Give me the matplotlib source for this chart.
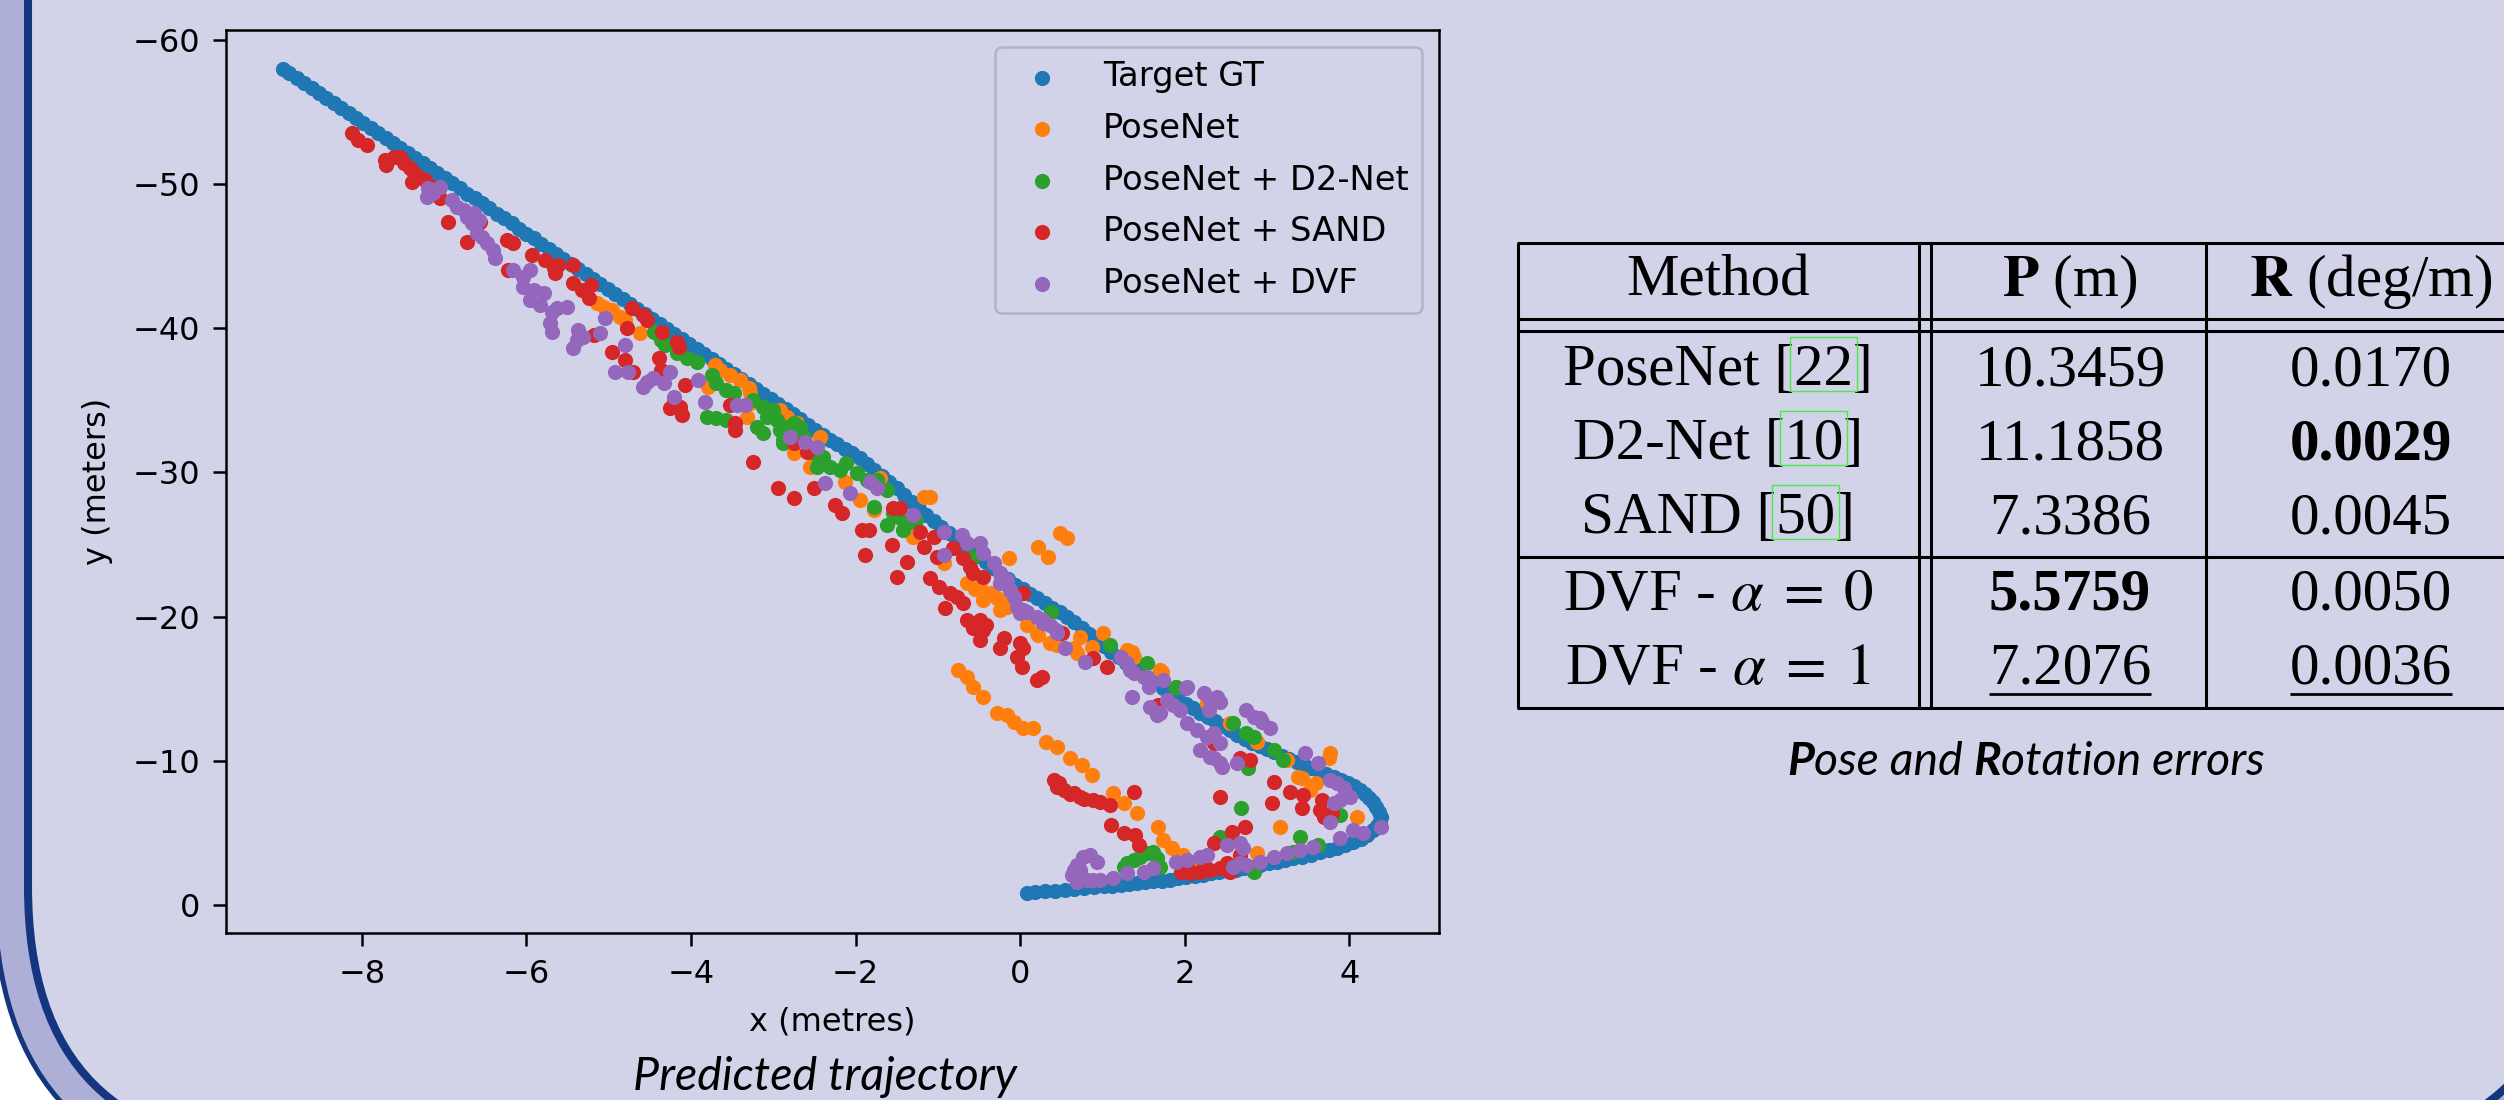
import matplotlib
matplotlib.use('Agg')
import matplotlib.pyplot as plt
from matplotlib.patches import FancyBboxPatch, Rectangle

plt.rcParams['mathtext.fontset'] = 'stix'

# ---------------- data ----------------
GT = [(-8.96,-58.00),(-8.88,-57.69),(-8.79,-57.34),(-8.70,-57.00),(-8.61,-56.65),(-8.52,-56.30),(-8.43,-55.95),
 (-8.34,-55.61),(-8.25,-55.26),(-8.16,-54.91),(-8.07,-54.56),(-7.98,-54.22),(-7.89,-53.87),(-7.80,-53.52),
 (-7.71,-53.17),(-7.62,-52.83),(-7.53,-52.48),(-7.44,-52.13),(-7.35,-51.79),(-7.26,-51.44),(-7.17,-51.09),
 (-7.08,-50.74),(-6.99,-50.40),(-6.90,-50.05),(-6.81,-49.70),(-6.72,-49.35),(-6.63,-49.01),(-6.54,-48.66),
 (-6.45,-48.31),(-6.36,-47.96),(-6.27,-47.62),(-6.18,-47.27),(-6.09,-46.92),(-6.00,-46.57),(-5.91,-46.23),
 (-5.82,-45.88),(-5.73,-45.53),(-5.64,-45.18),(-5.55,-44.84),(-5.46,-44.49),(-5.37,-44.14),(-5.28,-43.80),
 (-5.19,-43.45),(-5.10,-43.10),(-5.01,-42.75),(-4.92,-42.41),(-4.83,-42.06),(-4.74,-41.71),(-4.65,-41.36),
 (-4.56,-41.02),(-4.47,-40.67),(-4.38,-40.32),(-4.29,-39.97),(-4.20,-39.63),(-4.11,-39.28),(-4.02,-38.93),
 (-3.93,-38.58),(-3.84,-38.24),(-3.75,-37.89),(-3.66,-37.54),(-3.57,-37.19),(-3.48,-36.85),(-3.39,-36.50),
 (-3.30,-36.15),(-3.21,-35.80),(-3.12,-35.46),(-3.03,-35.11),(-2.94,-34.76),(-2.85,-34.42),
 (-2.76,-34.05),(-2.67,-33.68),(-2.58,-33.32),(-2.49,-32.96),(-2.40,-32.60),(-2.31,-32.27),(-2.22,-31.95),
 (-2.13,-31.63),(-2.04,-31.32),(-1.95,-30.98),(-1.86,-30.58),(-1.77,-30.18),(-1.68,-29.79),(-1.59,-29.37),
 (-1.50,-28.93),(-1.41,-28.45),(-1.32,-27.95),(-1.23,-27.48),(-1.14,-27.05),(-1.05,-26.63),(-0.96,-26.20),
 (-0.87,-25.78),(-0.78,-25.37),(-0.69,-24.97),(-0.60,-24.58),(-0.51,-24.18),(-0.42,-23.79),(-0.33,-23.39),
 (-0.24,-23.00),(-0.15,-22.61),(-0.06,-22.22),
 (0.03,-21.90),(0.12,-21.58),(0.21,-21.27),(0.30,-20.95),(0.39,-20.63),(0.48,-20.31),(0.57,-20.00),
 (0.66,-19.62),(0.75,-19.22),(0.84,-18.80),(0.93,-18.37),(1.02,-17.95),(1.11,-17.55),(1.20,-17.18),
 (1.29,-16.82),(1.38,-16.46),(1.47,-16.10),(1.56,-15.74),(1.65,-15.38),(1.74,-15.02),(1.83,-14.65),
 (1.92,-14.28),(2.01,-13.96),(2.10,-13.65),(2.19,-13.34),(2.28,-13.04),(2.37,-12.73),(2.46,-12.43),
 (2.55,-12.12),(2.64,-11.82),(2.73,-11.51),(2.82,-11.25),(2.91,-11.02),(3.00,-10.80),(3.09,-10.58),
 (3.18,-10.36),(3.27,-10.14),(3.36,-9.92),(3.45,-9.71),(3.54,-9.50),(3.63,-9.29),(3.72,-9.09),(3.81,-8.88),
 (3.90,-8.68),
 (3.98,-8.48),(4.06,-8.25),(4.13,-8.00),(4.19,-7.72),(4.24,-7.43),(4.29,-7.12),(4.33,-6.80),(4.36,-6.47),
 (4.38,-6.13),(4.37,-5.80),(4.34,-5.48),(4.29,-5.17),(4.22,-4.88),(4.14,-4.61),(4.05,-4.38),(3.95,-4.17),
 (3.85,-3.99),(3.75,-3.82),(3.64,-3.66),(3.53,-3.50),(3.42,-3.36),
 (3.32,-3.24),(3.22,-3.12),(3.12,-3.00),(3.02,-2.89),(2.92,-2.78),(2.82,-2.67),(2.72,-2.56),(2.62,-2.46),
 (2.52,-2.37),(2.42,-2.28),(2.32,-2.19),(2.22,-2.11),(2.12,-2.02),(2.02,-1.93),(1.92,-1.84),(1.82,-1.76),
 (1.72,-1.70),(1.62,-1.64),(1.52,-1.58),(1.42,-1.52),(1.32,-1.46),(1.22,-1.40),(1.12,-1.34),(1.02,-1.29),
 (0.90,-1.24),(0.78,-1.18),(0.66,-1.12),(0.54,-1.06),(0.42,-1.00),(0.30,-0.94),(0.18,-0.88),(0.08,-0.82)]

POSENET = [(-5.14,-41.74),(-5.06,-41.51),(-4.96,-41.28),(-4.86,-40.81),(-4.80,-40.58),(-4.62,-39.66),
 (-3.71,-37.46),(-3.65,-37.11),(-3.52,-36.77),(-3.40,-36.42),(-3.30,-35.84),(-3.79,-35.96),(-2.92,-34.34),
 (-2.83,-33.88),(-3.28,-35.50),(-3.32,-33.88),(-3.28,-34.80),(-2.75,-31.33),(-2.55,-30.41),
 (-2.71,-33.41),(-2.43,-32.48),(-2.13,-29.36),(-1.94,-28.09),(-1.78,-27.39),(-1.70,-29.59),(-1.30,-25.54),
 (-1.17,-28.32),(-1.09,-28.32),(0.49,-25.78),(0.57,-25.43),(0.22,-24.85),(0.34,-24.16),(-0.14,-24.04),
 (-0.93,-23.69),(-0.65,-22.31),(-0.49,-22.08),(-0.36,-21.61),(-0.28,-21.27),(-0.16,-20.69),(-0.24,-20.46),
 (-0.45,-21.15),(-0.55,-21.90),(-0.20,-21.00),(0.08,-19.42),(0.20,-18.84),(0.36,-18.15),(0.45,-18.03),
 (0.65,-17.80),(0.73,-18.61),(0.87,-17.91),(1.01,-18.84),(1.30,-17.68),(1.38,-17.22),(1.70,-16.30),
 (-0.75,-16.30),(-0.65,-15.83),(-0.57,-15.14),(-0.45,-14.45),(-0.28,-13.29),(-0.16,-13.18),(-0.08,-12.71),
 (0.04,-12.25),(0.16,-12.25),(0.32,-11.33),(0.45,-10.98),(0.61,-10.17),(0.75,-9.71),(0.87,-9.01),
 (1.13,-7.74),(1.26,-7.05),(1.42,-6.35),(3.38,-8.90),
 (0.22,-18.72),(0.69,-17.45),(1.36,-17.57),(1.72,-16.18),(1.90,-15.14),(2.27,-13.99),(2.55,-12.60),
 (2.88,-11.33),(3.24,-10.05),(3.77,-10.51),(3.75,-10.17),(3.60,-8.44),(3.52,-7.97),(3.42,-8.78),
 (4.09,-6.12),(3.16,-5.43),(1.68,-5.43),(1.74,-4.50),(1.84,-3.93),(1.98,-3.46),(2.19,-3.00),(2.88,-3.58)]

D2NET = [(-4.45,-39.77),(-4.37,-39.19),(-4.31,-38.85),(-4.17,-38.27),(-4.05,-37.92),(-3.93,-37.69),
 (-3.75,-36.77),(-3.69,-36.19),(-3.58,-35.73),(-3.48,-35.50),(-3.81,-33.88),(-3.69,-33.76),(-3.58,-33.65),
 (-3.20,-33.18),(-3.24,-35.03),(-3.12,-34.57),(-3.08,-33.88),(-3.00,-34.34),(-2.96,-33.65),(-2.92,-32.95),
 (-2.83,-33.18),(-2.75,-33.41),(-2.67,-33.18),(-2.63,-32.49),(-3.12,-32.72),(-2.88,-32.03),(-2.51,-31.33),
 (-2.47,-30.41),(-2.88,-32.25),(-2.67,-32.71),(-2.39,-31.09),(-2.31,-30.40),(-2.19,-30.17),(-2.11,-30.63),
 (-1.98,-29.94),(-1.86,-29.47),(-1.74,-29.47),(-1.78,-27.63),(-1.62,-28.78),(-1.62,-26.35),(-1.48,-26.93),
 (-1.42,-26.01),(-1.34,-26.59),(-1.26,-26.70),(-1.55,-27.20),(-1.40,-26.40),(0.38,-20.34),(1.09,-18.03),
 (1.54,-16.76),(1.90,-15.14),(2.59,-12.60),(2.75,-11.90),(2.84,-11.67),(3.08,-10.75),(3.20,-10.05),
 (2.77,-9.47),(2.69,-6.70),(-0.57,-24.16),
 (3.89,-6.24),(3.40,-4.74),(3.62,-4.16),(2.43,-4.74),(2.55,-4.50),(1.54,-3.58),(1.46,-3.35),(1.38,-3.12),
 (1.30,-2.89),(1.62,-3.70),(1.66,-3.23),(1.26,-2.66),(1.70,-2.66),(2.84,-2.31),(3.32,-3.70)]

SAND = [(-8.12,-53.53),(-8.04,-53.07),(-7.94,-52.72),(-7.72,-51.68),(-7.70,-51.33),(-7.61,-51.91),
 (-7.53,-51.91),(-7.49,-51.45),(-7.41,-51.10),(-7.37,-50.76),(-7.39,-50.18),(-7.31,-50.52),(-7.23,-50.29),
 (-7.13,-49.83),(-7.05,-49.02),(-6.95,-47.40),(-6.72,-46.02),(-6.56,-47.40),(-6.24,-46.13),(-6.16,-45.90),
 (-6.22,-44.05),(-5.93,-45.09),(-5.77,-44.74),(-5.67,-44.17),(-5.61,-44.40),(-5.65,-43.82),(-5.43,-44.40),
 (-5.43,-43.12),(-5.33,-42.66),(-5.22,-43.01),(-5.24,-42.08),(-5.18,-39.54),(-4.96,-38.39),(-4.80,-37.81),
 (-4.70,-37.00),(-4.72,-41.39),(-4.58,-40.93),(-4.54,-40.58),(-4.78,-40.00),(-4.35,-39.77),(-4.17,-39.08),
 (-4.15,-38.73),(-4.39,-37.92),(-4.37,-37.11),(-4.07,-36.07),(-4.21,-34.92),(-4.13,-34.57),(-4.11,-33.99),
 (-4.25,-34.45),(-3.52,-34.69),(-3.46,-33.41),(-3.46,-32.95),(-3.24,-30.76),(-2.94,-28.91),(-2.75,-28.21),
 (-2.51,-28.91),(-2.75,-32.03),(-2.59,-31.45),
 (-2.25,-27.74),(-2.17,-27.16),(-1.92,-26.01),(-1.84,-26.01),(-1.88,-24.27),(-1.56,-24.97),(-1.38,-23.81),
 (-1.50,-22.77),(-1.54,-27.51),(-1.46,-27.51),(-1.22,-25.89),(-1.17,-24.85),(-1.05,-25.54),(-1.09,-22.65),
 (-0.99,-22.08),(-0.91,-20.57),(-0.85,-21.61),(-0.77,-21.38),(-0.69,-20.92),(-1.01,-24.16),(-0.81,-24.73),
 (-0.69,-24.04),(-0.61,-23.46),(-0.57,-23.00),(-0.45,-22.77),(-0.65,-19.76),(-0.57,-19.19),(-0.49,-19.76),
 (-0.45,-19.07),(-0.41,-19.42),(-0.49,-18.38),(-0.24,-17.80),(-0.20,-18.49),(0.00,-18.15),(0.04,-17.80),
 (-0.04,-17.22),(0.02,-16.53),(0.20,-15.60),(0.26,-15.83),(0.04,-21.61),(0.51,-18.84),(0.89,-17.10),
 (1.05,-16.53),(0.41,-8.66),(0.45,-8.20),(0.47,-8.45),(0.53,-7.97),(0.60,-7.70),(0.65,-7.74),(0.73,-7.51),
 (0.78,-7.35),(0.89,-7.28),(0.97,-7.15),(1.09,-6.93),(1.38,-7.86),(2.43,-7.51),(3.08,-8.55),(3.06,-7.05),
 (2.67,-10.17),(2.79,-10.05),(3.28,-7.86),(1.68,-13.87),(2.35,-11.21),
 (1.11,-5.54),(1.26,-4.97),(1.40,-4.85),(1.44,-4.16),(3.44,-7.63),(3.42,-6.70),(3.67,-7.28),(3.65,-6.58),
 (3.69,-6.12),(3.79,-6.35),(2.73,-5.43),(2.57,-5.08),(2.35,-4.27),
 (1.96,-2.31),(2.07,-2.19),(2.19,-2.31),(2.31,-2.42),(2.43,-2.54),(2.55,-2.31),(2.51,-2.89),(2.23,-2.77),
 (2.03,-2.66),(2.67,-3.46)]

DVF = [(-7.19,-49.71),(-7.13,-49.37),(-7.05,-49.83),(-7.21,-49.14),(-6.90,-48.91),(-6.84,-48.44),
 (-6.76,-48.21),(-6.72,-47.75),(-6.64,-47.98),(-6.66,-47.29),(-6.58,-47.52),(-6.60,-46.59),(-6.54,-46.36),
 (-6.48,-45.90),(-6.40,-45.44),(-6.38,-44.86),(-6.16,-44.05),(-6.04,-43.59),(-5.95,-44.05),(-6.04,-42.89),
 (-5.91,-42.66),(-5.79,-42.43),(-5.95,-41.97),(-5.83,-41.62),(-5.69,-41.16),(-5.63,-41.39),(-5.51,-41.51),
 (-5.71,-40.35),(-5.69,-39.77),(-5.37,-39.89),(-5.39,-39.19),(-5.43,-38.62),(-5.31,-39.43),(-5.10,-39.66),
 (-5.04,-40.70),(-4.80,-38.85),(-4.92,-37.00),(-4.76,-37.00),(-4.54,-36.31),(-4.58,-35.96),(-4.46,-36.54),
 (-4.33,-36.19),(-4.25,-37.00),(-4.21,-35.26),(-3.91,-36.42),(-3.83,-34.92),(-3.44,-34.69),(-3.34,-34.69),
 (-2.80,-32.49),(-2.61,-32.14),(-2.47,-31.79),
 (-2.37,-29.24),(-2.07,-28.55),(-1.82,-29.36),(-1.74,-28.90),(-1.30,-27.05),(-0.93,-25.89),(-0.93,-24.27),
 (-0.71,-25.66),(-0.65,-25.08),(-0.49,-25.08),(-0.45,-24.39),(-0.32,-23.69),(-0.24,-23.00),(-0.16,-22.54),
 (-0.24,-22.31),(-0.12,-21.84),(-0.08,-21.38),(-0.04,-20.69),(0.00,-20.23),(0.08,-20.34),(0.20,-20.00),
 (0.28,-19.76),(0.36,-19.42),(0.45,-18.84),(0.55,-17.80),(0.79,-16.87),(1.22,-17.22),(1.30,-16.76),
 (1.34,-16.30),(1.54,-15.83),(1.56,-15.14),(1.74,-15.60),(1.36,-14.45),(1.58,-13.75),(1.66,-13.18),
 (1.78,-14.21),(1.86,-13.87),(1.94,-13.52),(2.03,-15.14),(2.03,-12.60),(2.15,-12.14),(2.23,-14.68),
 (2.31,-14.21),(2.39,-14.45),(2.29,-13.52),(2.19,-10.75),(2.31,-10.29),(2.43,-9.82),(2.35,-11.90),
 (2.43,-11.21),(2.63,-9.82),(2.75,-13.52),(2.84,-13.06),(2.94,-12.71),(3.04,-12.25),
 (0.04,-20.46),(0.28,-19.53),(0.43,-19.07),(1.38,-16.07),(1.50,-15.83),(1.58,-15.37),(2.01,-15.03),
 (1.70,-13.29),(2.43,-14.10),(2.27,-11.67),(2.35,-10.17),(2.45,-9.59),(2.92,-12.94),(3.46,-10.51),
 (3.62,-9.82),(3.77,-8.67),(3.85,-8.44),(3.93,-8.09),(4.01,-7.51),(3.89,-7.28),(3.81,-7.05),(3.77,-5.78),
 (4.05,-5.20),(4.17,-4.97),(4.39,-5.43),(3.89,-4.62),(3.56,-4.04),(3.40,-3.81),(3.24,-3.58),(3.08,-3.35),
 (2.92,-3.00),(2.75,-2.77),(2.67,-2.89),(2.59,-2.66),(2.51,-4.16),(2.67,-4.27),(2.71,-3.93),(2.19,-3.35),
 (2.27,-3.46),(2.03,-3.12),(1.90,-3.00),(1.62,-2.54),(1.50,-2.31),(1.30,-2.19),(1.13,-1.85),(0.97,-1.73),
 (0.89,-1.73),(0.73,-2.42),(0.69,-2.77),(0.77,-3.35),(0.85,-3.46),(0.93,-3.00),(0.63,-2.08),(0.69,-1.62),
 (0.81,-1.73),(0.65,-2.42)]

SERIES_LABELS = ['Target GT', 'PoseNet', 'PoseNet + D2-Net', 'PoseNet + SAND', 'PoseNet + DVF']
SERIES_COLORS = ['#1f77b4', '#ff7f0e', '#2ca02c', '#d62728', '#9467bd']
X_TICKS = [-8, -6, -4, -2, 0, 2, 4]
Y_TICKS = [-60, -50, -40, -30, -20, -10, 0]

TABLE_HEADER = ['Method', r'$\mathbf{P}$ (m)', r'$\mathbf{R}$ (deg/m)']
METHOD_NAMES = ['PoseNet', 'D2-Net', 'SAND', r'DVF - $\alpha \;=\; 0$', r'DVF - $\alpha \;=\; 1$']
METHOD_CITES = ['22', '10', '50', None, None]
P_VALUES = ['10.3459', '11.1858', '7.3386', '5.5759', '7.2076']
R_VALUES = ['0.0170', '0.0029', '0.0045', '0.0050', '0.0036']
P_BOLD = [False, False, False, True, False]
R_BOLD = [False, True, False, False, False]
P_UNDER = [False, False, False, False, True]
R_UNDER = [False, False, False, False, True]

# ---------------- figure / background ----------------
W, H = 2504, 1100
LAV, MID, NAVY = '#D2D3E9', '#AEAFD6', '#143680'
fig = plt.figure(figsize=(W / 100, H / 100), dpi=100)
fig.patch.set_facecolor('white')
bg = fig.add_axes([0, 0, 1, 1])
bg.set_xlim(0, W)
bg.set_ylim(0, H)
bg.axis('off')


def Y(y):
    return H - y


bg.add_patch(FancyBboxPatch((-6, Y(1184)), 2615, 3000,
                            boxstyle='round,pad=0,rounding_size=297',
                            fc=MID, ec=NAVY, lw=3.6, zorder=0))
bg.add_patch(FancyBboxPatch((28, Y(1150)), 2547, 3000,
                            boxstyle='round,pad=0,rounding_size=263',
                            fc=LAV, ec=NAVY, lw=5.8, zorder=1))

# ---------------- scatter plot ----------------
ax = fig.add_axes([226 / W, 1 - 933 / H, (1439 - 226) / W, (933 - 30) / H])
ax.set_facecolor('none')
for pts, lab, col in zip([GT, POSENET, D2NET, SAND, DVF], SERIES_LABELS, SERIES_COLORS):
    xs = [p[0] for p in pts]
    ys = [p[1] for p in pts]
    ax.scatter(xs, ys, s=120, c=col, linewidths=0, label=lab)
ax.set_xlim(-9.65, 5.09)
ax.set_ylim(1.94, -60.69)
ax.set_xticks(X_TICKS)
ax.set_yticks(Y_TICKS)
ax.tick_params(labelsize=23, length=9.4, width=1.8, pad=9.4, color='black')
for sp in ax.spines.values():
    sp.set_linewidth(1.8)
ax.set_xlabel('x (metres)', fontsize=23, labelpad=11.5)
ax.set_ylabel('y (meters)', fontsize=23, labelpad=14)
leg = ax.legend(loc='upper right', fontsize=24.3, frameon=True, framealpha=1,
                facecolor=LAV, edgecolor='#B3B3C8', borderaxespad=0.5, labelspacing=0.55)
leg.get_frame().set_linewidth(1.8)

# ---------------- table ----------------
renderer = fig.canvas.get_renderer()
SERIF = 'Liberation Serif'
TS = 42.5


def text_width(s, **kw):
    t = bg.text(0, 0, s, **kw)
    bb = t.get_window_extent(renderer)
    t.remove()
    return bb.width


LW = 2.2
for yy in [243, 319, 331, 557, 708]:
    bg.plot([1517, 2530], [Y(yy), Y(yy)], color='black', lw=LW, solid_capstyle='butt', zorder=3)
for xx in [1518, 1919, 1931, 2206]:
    bg.plot([xx, xx], [Y(243), Y(708)], color='black', lw=LW, solid_capstyle='butt', zorder=3)

COLX = [1718, 2070, 2371]
HEAD_BASE = 296
ROW_BASE = [385, 459, 533, 610, 684]

for cx, h in zip(COLX, TABLE_HEADER):
    bg.text(cx, Y(HEAD_BASE), h, ha='center', va='baseline', fontsize=TS, family=SERIF, zorder=4)

for i in range(len(METHOD_NAMES)):
    base = ROW_BASE[i]
    name, cite = METHOD_NAMES[i], METHOD_CITES[i]
    full = name if cite is None else f'{name} [{cite}]'
    t = bg.text(COLX[0], Y(base), full, ha='center', va='baseline', fontsize=TS, family=SERIF, zorder=4)
    if cite is not None:
        bb = t.get_window_extent(renderer)
        kw = dict(fontsize=TS, family=SERIF)
        x_a = bb.x0 + text_width(f'{name} [', **kw)
        x_b = bb.x0 + text_width(f'{name} [{cite}', **kw)
        bg.add_patch(Rectangle((x_a - 4, Y(base + 6)), (x_b - x_a) + 8, 54,
                               fill=False, ec='#44EE44', lw=1.0, zorder=5))
    for col, vals, bolds, unders in [(1, P_VALUES, P_BOLD, P_UNDER), (2, R_VALUES, R_BOLD, R_UNDER)]:
        tv = bg.text(COLX[col], Y(base), vals[i], ha='center', va='baseline', fontsize=TS, family=SERIF,
                     fontweight='bold' if bolds[i] else 'normal', zorder=4)
        if unders[i]:
            bb = tv.get_window_extent(renderer)
            bg.plot([bb.x0, bb.x1], [Y(base + 10), Y(base + 10)], color='black', lw=2.0,
                    solid_capstyle='butt', zorder=4)


# ---------------- captions ----------------
def draw_caption(pieces, cx, base, target_w, family='Lato'):
    def adv(s, wt, size):
        kw = dict(fontsize=size, family=family, style='italic', fontweight=wt)
        return text_width(s + '|', **kw) - text_width('|', **kw)

    size0 = 30.0
    total = sum(adv(s, wt, size0) for s, wt in pieces)
    size = size0 * target_w / total
    widths = [adv(s, wt, size) for s, wt in pieces]
    x = cx - sum(widths) / 2
    for (s, wt), w in zip(pieces, widths):
        bg.text(x, Y(base), s, ha='left', va='baseline', fontsize=size, family=family,
                style='italic', fontweight=wt, zorder=4)
        x += w


draw_caption([('Predicted trajectory', 'normal')], 825, 1090, 383)
draw_caption([('P', 'bold'), ('ose and ', 'normal'), ('R', 'bold'), ('otation errors', 'normal')],
             2026, 775, 477)

fig.savefig('out.png', dpi=100, facecolor=fig.get_facecolor())
